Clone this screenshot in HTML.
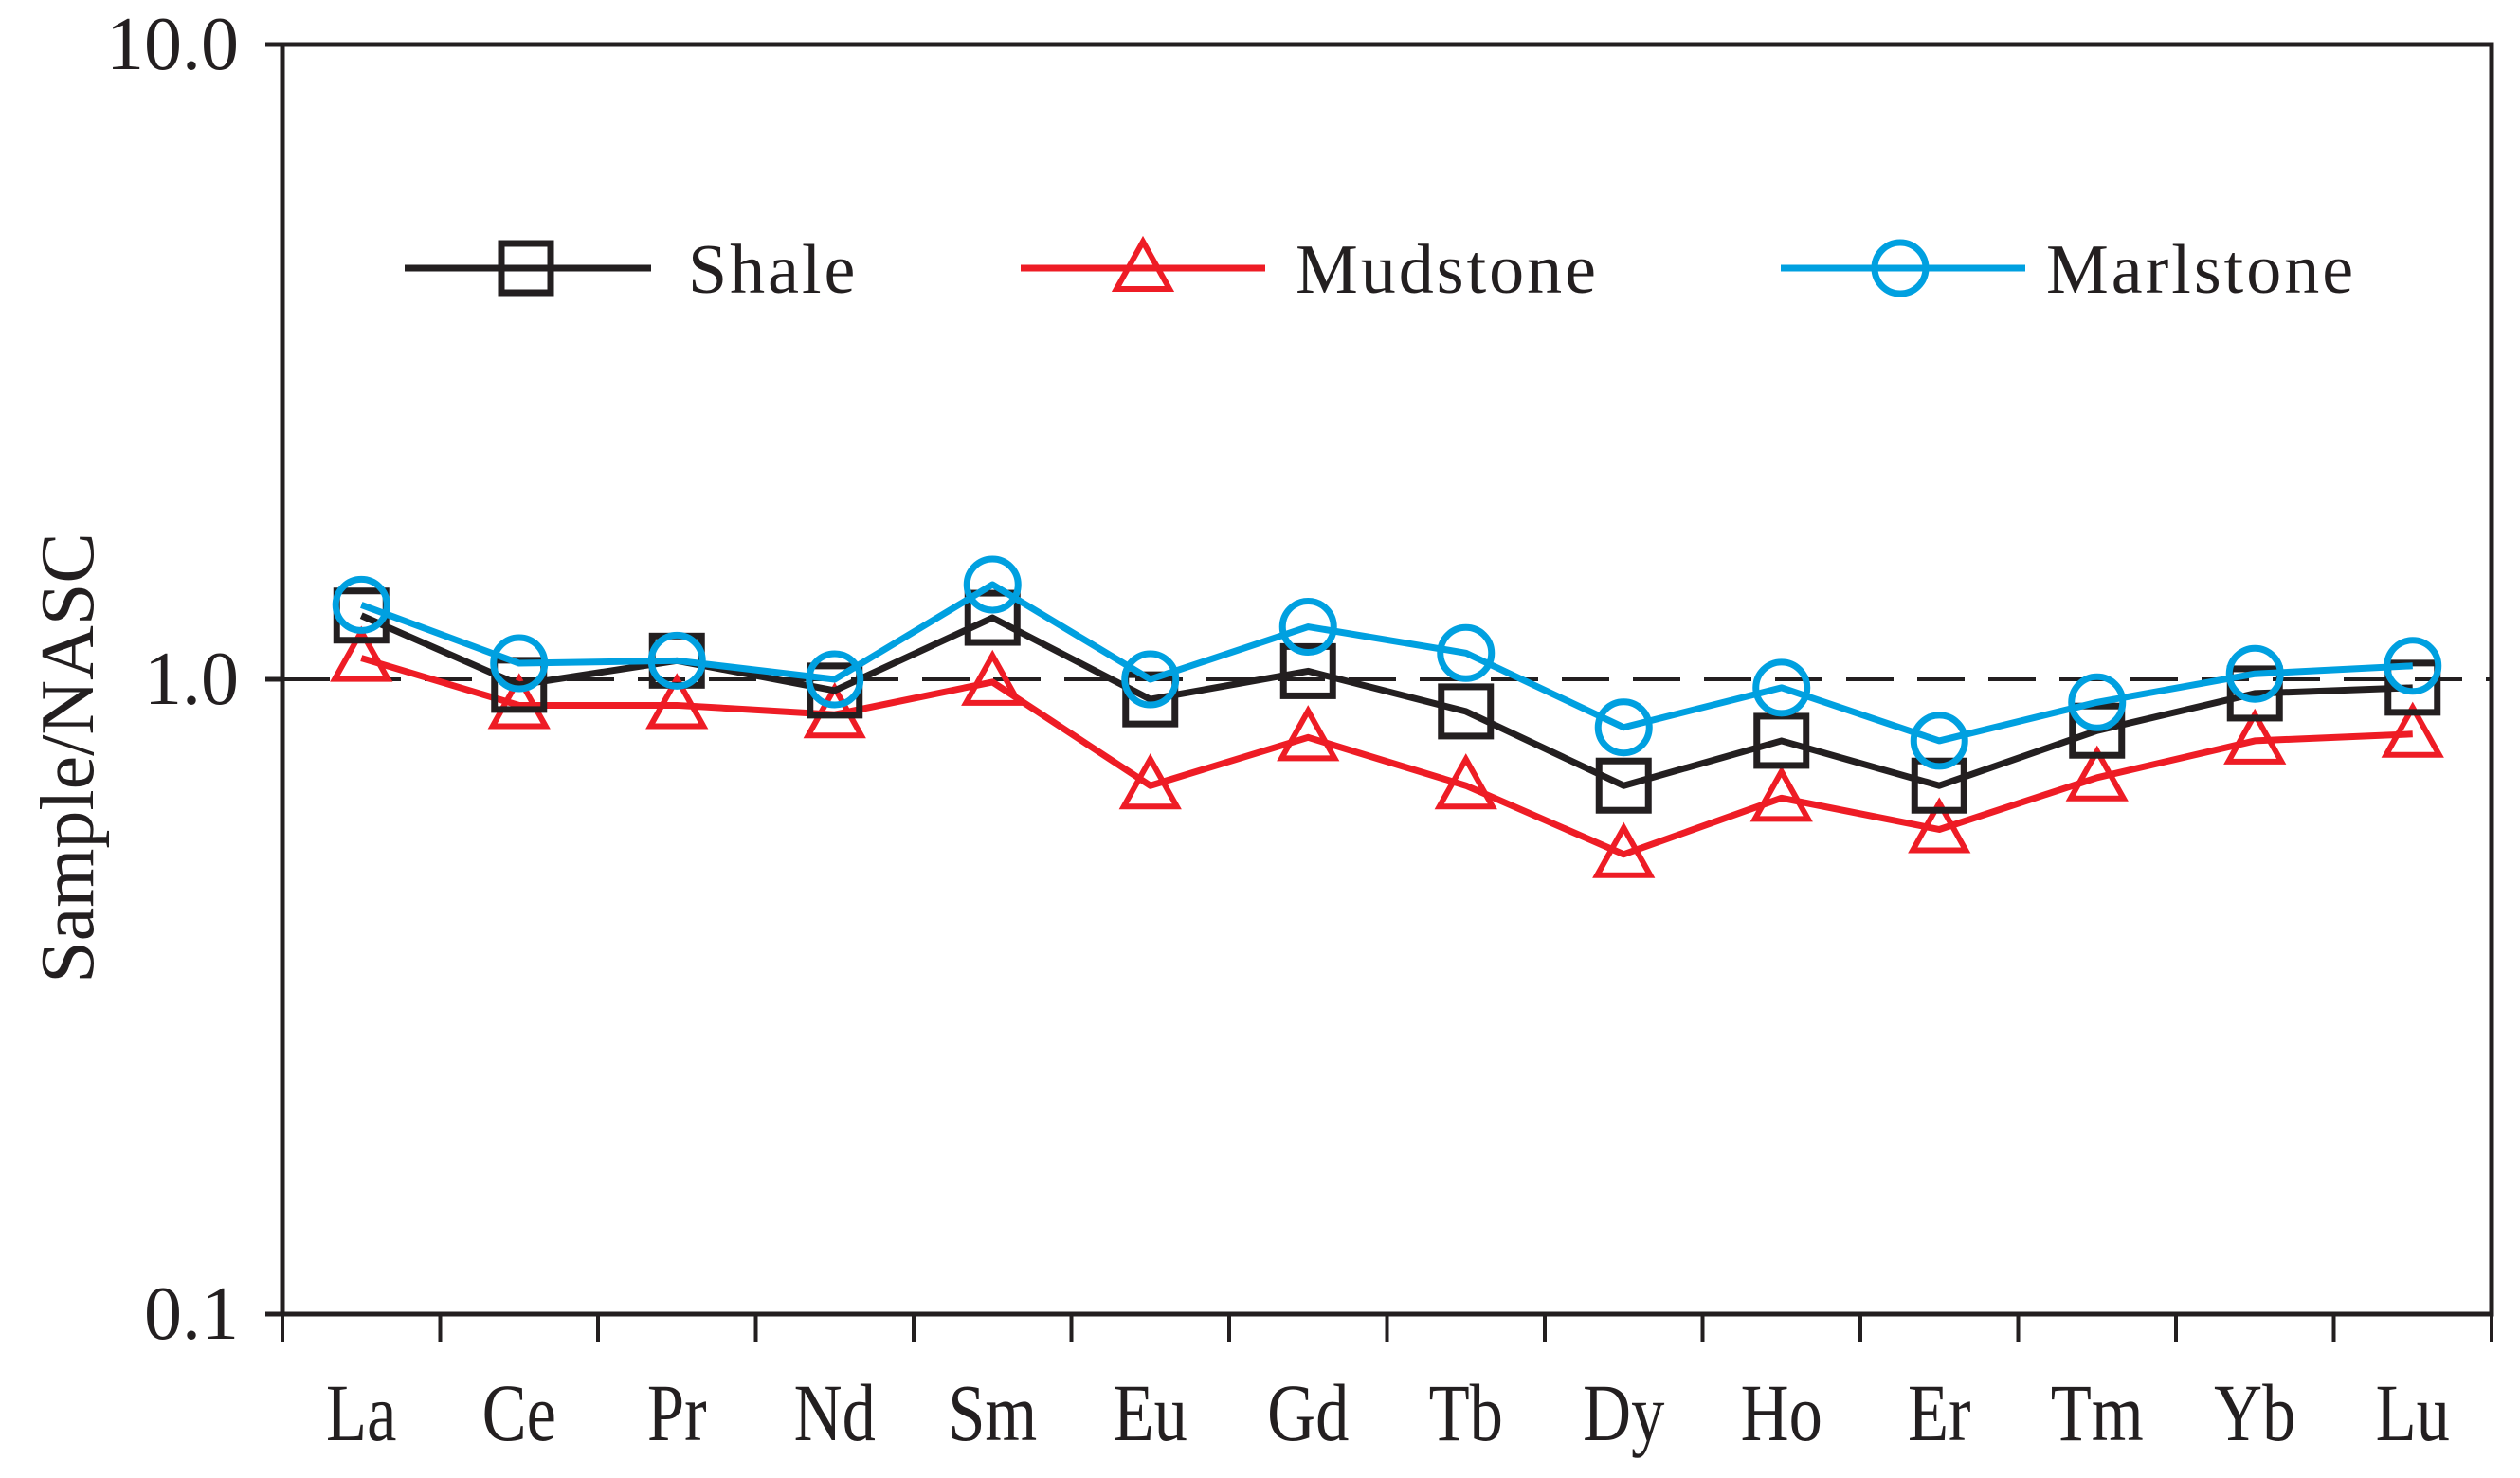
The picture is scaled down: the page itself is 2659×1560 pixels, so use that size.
<!DOCTYPE html>
<html><head><meta charset="utf-8"><style>
html,body{margin:0;padding:0;background:#fff;}
svg{display:block;}
text{font-family:"Liberation Serif",serif;fill:#231f20;}
</style></head><body>
<svg id="chart" width="2659" height="1560" viewBox="0 0 2659 1560" xmlns="http://www.w3.org/2000/svg"></svg>
<script>
const categories=["La","Ce","Pr","Nd","Sm","Eu","Gd","Tb","Dy","Ho","Er","Tm","Yb","Lu"];
const shale=[1.26,0.98,1.07,0.96,1.25,0.93,1.03,0.89,0.68,0.80,0.68,0.83,0.95,0.97];
const mudstone=[1.08,0.91,0.91,0.88,0.99,0.68,0.81,0.68,0.53,0.65,0.58,0.70,0.80,0.82];
const marlstone=[1.31,1.06,1.07,1.00,1.41,1.00,1.21,1.10,0.84,0.97,0.80,0.92,1.02,1.05];
const yTicks=[0.1,1,10];
const yTickLabels=["0.1","1.0","10.0"];

const svg=document.getElementById('chart');
const NS="http://www.w3.org/2000/svg";
const L=298,R=2629,T=47,B=1387;
const dark="#231f20",red="#ee1c25",blue="#00a0e0";
const bandW=(R-L)/categories.length;
function xs(i){return L+bandW*(i+0.5);}
function ys(v){return B-(Math.log10(v)+1)/2*(B-T);}
function mk(tag,attrs,parent){const e=document.createElementNS(NS,tag);for(const k in attrs)e.setAttribute(k,attrs[k]);(parent||svg).appendChild(e);return e;}

const frame=mk('rect',{x:L,y:T,width:R-L,height:B-T,fill:'none',stroke:dark,'stroke-width':5});


yTicks.forEach((v,i)=>{
  const t=mk('line',{x1:280,x2:L,y1:ys(v),y2:ys(v),stroke:dark,'stroke-width':5});
  
  
  const tx=mk('text',{x:252,y:ys(v)+26,'text-anchor':'end','font-size':80});
  tx.textContent=yTickLabels[i];
  
  
});
for(let i=0;i<=categories.length;i++){
  const x=L+bandW*i;
  const t=mk('line',{x1:x,x2:x,y1:B,y2:1416,stroke:dark,'stroke-width':4});
  
  
}
categories.forEach((c,i)=>{
  const tx=mk('text',{x:xs(i),y:1520,'text-anchor':'middle','font-size':86,transform:`translate(${xs(i)} 0) scale(0.82 1) translate(${-xs(i)} 0)`});
  tx.textContent=c;
  
  
});
const ref=mk('line',{x1:L,x2:R,y1:ys(1),y2:ys(1),stroke:dark,'stroke-width':4,'stroke-dasharray':'50 25'});


const yt=mk('text',{x:0,y:0,'text-anchor':'middle','font-size':80,transform:'translate(98 800) rotate(-90)'});
yt.textContent='Sample/NASC';



function marker(type,x,y,color,g){
  if(type==='sq') return mk('rect',{x:x-26,y:y-26,width:52,height:52,fill:'none',stroke:color,'stroke-width':7},g);
  if(type==='ci') return mk('circle',{cx:x,cy:y,r:27,fill:'none',stroke:color,'stroke-width':7},g);
  return mk('polygon',{points:`${x},${y-28} ${x+28},${y+22} ${x-28},${y+22}`,fill:'none',stroke:color,'stroke-width':6},g);
}
function series(vals,color,type,name){
  const g=mk('g',{});
  
  
  const pl=mk('polyline',{points:vals.map((v,i)=>xs(i)+','+ys(v)).join(' '),fill:'none',stroke:color,'stroke-width':7,'stroke-linejoin':'round'},g);
  
  
  vals.forEach((v,i)=>{
    const m=marker(type,xs(i),ys(v),color,g);
    
    
  });
}
series(mudstone,red,'tr','mudstone');
series(shale,dark,'sq','shale');
series(marlstone,blue,'ci','marlstone');

const legend=[["Shale",dark,'sq',427,687,555,726],["Mudstone",red,'tr',1077,1335,1206,1367],["Marlstone",blue,'ci',1879,2137,2005,2159]];
legend.forEach(l=>{
  const g=mk('g',{});
  
  
  mk('line',{x1:l[3],x2:l[4],y1:283,y2:283,stroke:l[1],'stroke-width':7},g);
  marker(l[2],l[5],283,l[1],g);
  const t=mk('text',{x:l[6],y:309,'font-size':74,'letter-spacing':3},g);
  t.textContent=l[0];
});
</script>
</body></html>
